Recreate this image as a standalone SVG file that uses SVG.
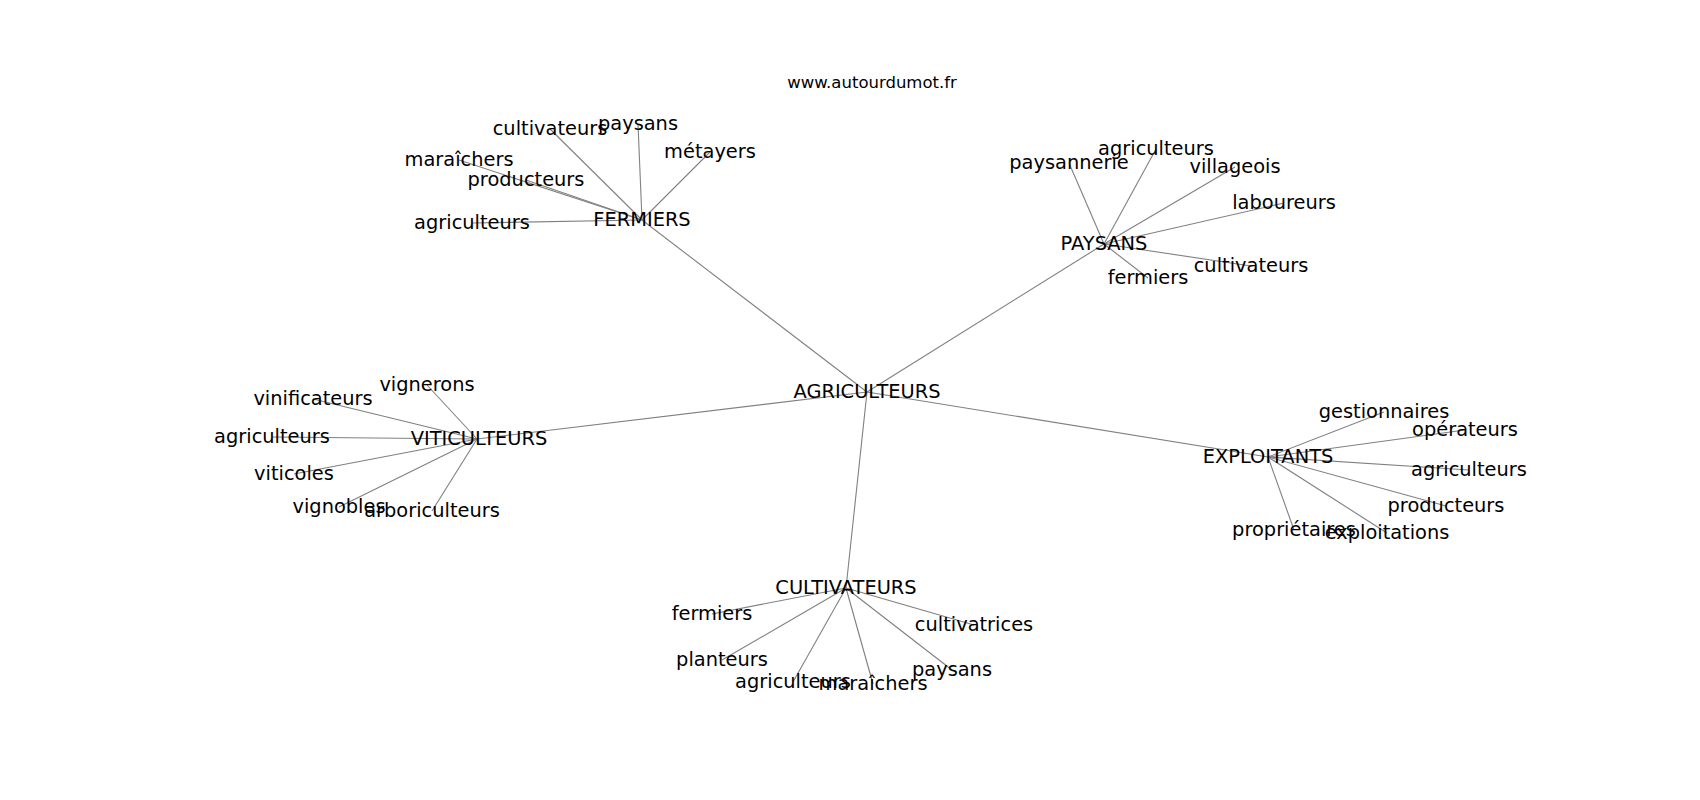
<svg xmlns="http://www.w3.org/2000/svg" width="1700" height="800" viewBox="0 0 1700 800">
<style>
.bg{fill:#ffffff}
.e{stroke:#808080;stroke-width:1.1;fill:none}
.t{font-family:"DejaVu Sans","Liberation Sans",sans-serif;font-size:19.4px;fill:#000;text-anchor:middle}
.title{font-family:"DejaVu Sans","Liberation Sans",sans-serif;font-size:16.5px;fill:#000;text-anchor:middle}
</style>
<rect class="bg" x="0" y="0" width="1700" height="800"/>
<text class="title" x="872" y="88">www.autourdumot.fr</text>
<g id="connectors">
<line class="e" x1="867" y1="392" x2="642" y2="220"/>
<line class="e" x1="867" y1="392" x2="1104" y2="244"/>
<line class="e" x1="867" y1="392" x2="477" y2="439"/>
<line class="e" x1="867" y1="392" x2="1268" y2="457"/>
<line class="e" x1="867" y1="392" x2="846" y2="588"/>
<line class="e" x1="642" y1="220" x2="550" y2="129"/>
<line class="e" x1="642" y1="220" x2="638" y2="124"/>
<line class="e" x1="642" y1="220" x2="710" y2="152"/>
<line class="e" x1="642" y1="220" x2="459" y2="160"/>
<line class="e" x1="642" y1="220" x2="526" y2="180"/>
<line class="e" x1="642" y1="220" x2="472" y2="223"/>
<line class="e" x1="1104" y1="244" x2="1069" y2="163"/>
<line class="e" x1="1104" y1="244" x2="1156" y2="149"/>
<line class="e" x1="1104" y1="244" x2="1235" y2="167"/>
<line class="e" x1="1104" y1="244" x2="1284" y2="203"/>
<line class="e" x1="1104" y1="244" x2="1251" y2="266"/>
<line class="e" x1="1104" y1="244" x2="1148" y2="278"/>
<line class="e" x1="477" y1="439" x2="427" y2="385"/>
<line class="e" x1="477" y1="439" x2="313" y2="399"/>
<line class="e" x1="477" y1="439" x2="272" y2="437"/>
<line class="e" x1="477" y1="439" x2="294" y2="474"/>
<line class="e" x1="477" y1="439" x2="339" y2="507"/>
<line class="e" x1="477" y1="439" x2="432" y2="511"/>
<line class="e" x1="1268" y1="457" x2="1384" y2="412"/>
<line class="e" x1="1268" y1="457" x2="1465" y2="430"/>
<line class="e" x1="1268" y1="457" x2="1469" y2="470"/>
<line class="e" x1="1268" y1="457" x2="1446" y2="506"/>
<line class="e" x1="1268" y1="457" x2="1294" y2="530"/>
<line class="e" x1="1268" y1="457" x2="1387" y2="533"/>
<line class="e" x1="846" y1="588" x2="712" y2="614"/>
<line class="e" x1="846" y1="588" x2="722" y2="660"/>
<line class="e" x1="846" y1="588" x2="793" y2="682"/>
<line class="e" x1="846" y1="588" x2="873" y2="684"/>
<line class="e" x1="846" y1="588" x2="952" y2="670"/>
<line class="e" x1="846" y1="588" x2="974" y2="625"/>
</g>
<g id="n-agriculteurs"><text class="t" x="867" y="397.5">AGRICULTEURS</text></g>
<g id="n-fermiers"><text class="t" x="642" y="225.5">FERMIERS</text></g>
<g id="n-paysans"><text class="t" x="1104" y="249.5">PAYSANS</text></g>
<g id="n-viticulteurs"><text class="t" x="479" y="444.5">VITICULTEURS</text></g>
<g id="n-exploitants"><text class="t" x="1268" y="462.5">EXPLOITANTS</text></g>
<g id="n-cultivateurs"><text class="t" x="846" y="593.5">CULTIVATEURS</text></g>
<g id="f-cultivateurs"><text class="t" x="550" y="134.5">cultivateurs</text></g>
<g id="f-paysans"><text class="t" x="638" y="129.5">paysans</text></g>
<g id="f-metayers"><text class="t" x="710" y="157.5">métayers</text></g>
<g id="f-maraichers"><text class="t" x="459" y="165.5">maraîchers</text></g>
<g id="f-producteurs"><text class="t" x="526" y="185.5">producteurs</text></g>
<g id="f-agriculteurs"><text class="t" x="472" y="228.5">agriculteurs</text></g>
<g id="p-paysannerie"><text class="t" x="1069" y="168.5">paysannerie</text></g>
<g id="p-agriculteurs"><text class="t" x="1156" y="154.5">agriculteurs</text></g>
<g id="p-villageois"><text class="t" x="1235" y="172.5">villageois</text></g>
<g id="p-laboureurs"><text class="t" x="1284" y="208.5">laboureurs</text></g>
<g id="p-cultivateurs"><text class="t" x="1251" y="271.5">cultivateurs</text></g>
<g id="p-fermiers"><text class="t" x="1148" y="283.5">fermiers</text></g>
<g id="v-vignerons"><text class="t" x="427" y="390.5">vignerons</text></g>
<g id="v-vinificateurs"><text class="t" x="313" y="404.5">vinificateurs</text></g>
<g id="v-agriculteurs"><text class="t" x="272" y="442.5">agriculteurs</text></g>
<g id="v-viticoles"><text class="t" x="294" y="479.5">viticoles</text></g>
<g id="v-vignobles"><text class="t" x="339" y="512.5">vignobles</text></g>
<g id="v-arboriculteurs"><text class="t" x="432" y="516.5">arboriculteurs</text></g>
<g id="e-gestionnaires"><text class="t" x="1384" y="417.5">gestionnaires</text></g>
<g id="e-operateurs"><text class="t" x="1465" y="435.5">opérateurs</text></g>
<g id="e-agriculteurs"><text class="t" x="1469" y="475.5">agriculteurs</text></g>
<g id="e-producteurs"><text class="t" x="1446" y="511.5">producteurs</text></g>
<g id="e-proprietaires"><text class="t" x="1294" y="535.5">propriétaires</text></g>
<g id="e-exploitations"><text class="t" x="1387" y="538.5">exploitations</text></g>
<g id="c-fermiers"><text class="t" x="712" y="619.5">fermiers</text></g>
<g id="c-planteurs"><text class="t" x="722" y="665.5">planteurs</text></g>
<g id="c-agriculteurs"><text class="t" x="793" y="687.5">agriculteurs</text></g>
<g id="c-maraichers"><text class="t" x="873" y="689.5">maraîchers</text></g>
<g id="c-paysans"><text class="t" x="952" y="675.5">paysans</text></g>
<g id="c-cultivatrices"><text class="t" x="974" y="630.5">cultivatrices</text></g>
</svg>
